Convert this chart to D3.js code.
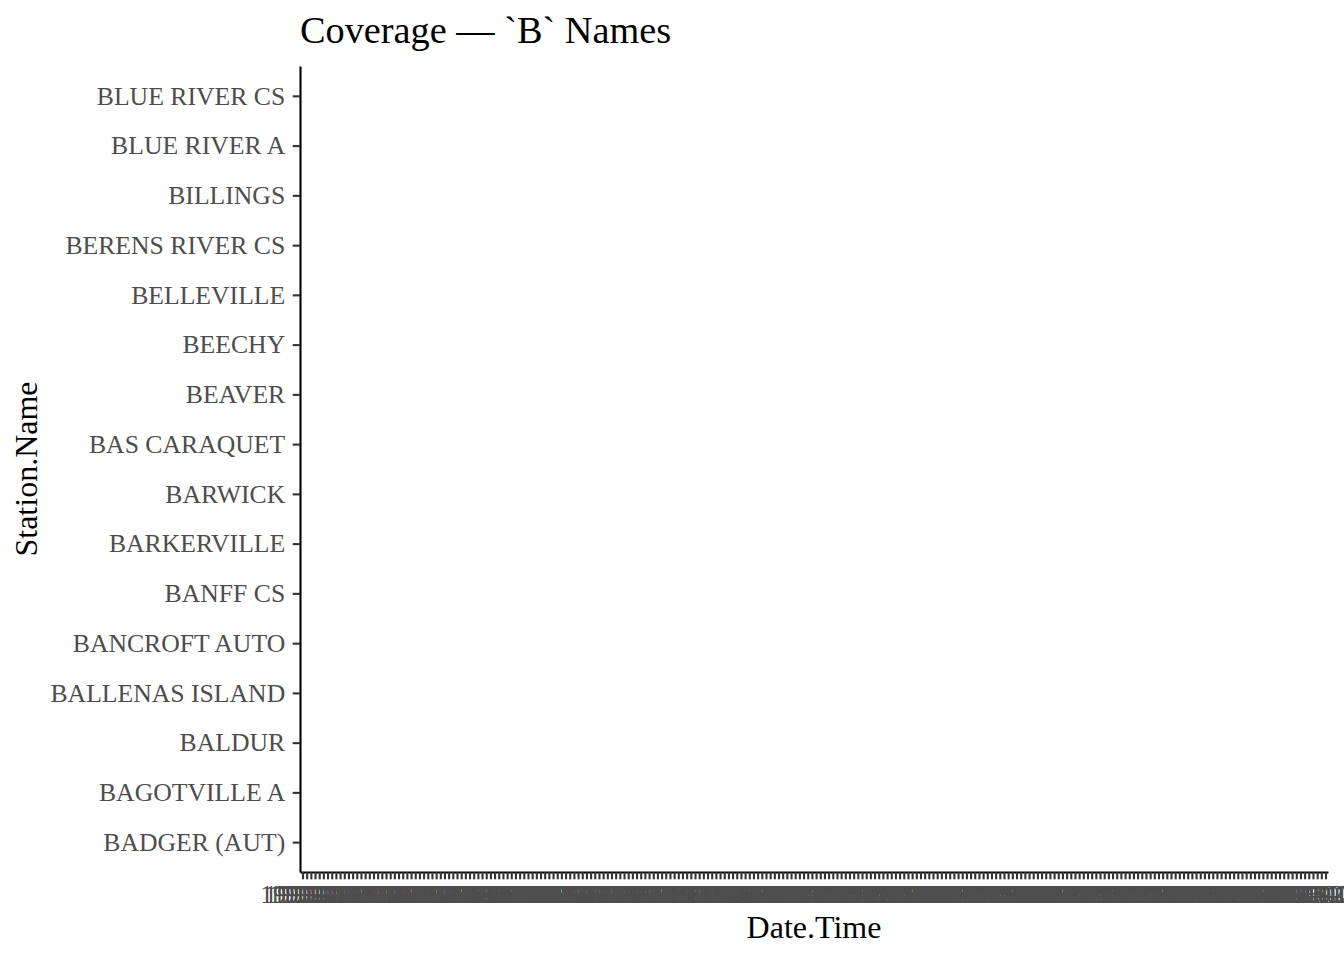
<!DOCTYPE html>
<html><head><meta charset="utf-8">
<script src="https://cdn.jsdelivr.net/npm/d3@7"></script>
<style>body{margin:0;background:#fff}svg{display:block}text{font-family:"Liberation Serif","Times New Roman",serif}</style>
</head><body>
<script>
const stations = ["BADGER (AUT)","BAGOTVILLE A","BALDUR","BALLENAS ISLAND","BANCROFT AUTO","BANFF CS","BARKERVILLE","BARWICK","BAS CARAQUET","BEAVER","BEECHY","BELLEVILLE","BERENS RIVER CS","BILLINGS","BLUE RIVER A","BLUE RIVER CS"];
const dateTimes = [
"1990-01","1990-02","1990-03","1990-04","1990-05","1990-06","1990-07","1990-08","1990-09","1990-10","1990-11","1990-12",
"1991-01","1991-02","1991-03","1991-04","1991-05","1991-06","1991-07","1991-08","1991-09","1991-10","1991-11","1991-12",
"1992-01","1992-02","1992-03","1992-04","1992-05","1992-06","1992-07","1992-08","1992-09","1992-10","1992-11","1992-12",
"1993-01","1993-02","1993-03","1993-04","1993-05","1993-06","1993-07","1993-08","1993-09","1993-10","1993-11","1993-12",
"1994-01","1994-02","1994-03","1994-04","1994-05","1994-06","1994-07","1994-08","1994-09","1994-10","1994-11","1994-12",
"1995-01","1995-02","1995-03","1995-04","1995-05","1995-06","1995-07","1995-08","1995-09","1995-10","1995-11","1995-12",
"1996-01","1996-02","1996-03","1996-04","1996-05","1996-06","1996-07","1996-08","1996-09","1996-10","1996-11","1996-12",
"1997-01","1997-02","1997-03","1997-04","1997-05","1997-06","1997-07","1997-08","1997-09","1997-10","1997-11","1997-12",
"1998-01","1998-02","1998-03","1998-04","1998-05","1998-06","1998-07","1998-08","1998-09","1998-10","1998-11","1998-12",
"1999-01","1999-02","1999-03","1999-04","1999-05","1999-06","1999-07","1999-08","1999-09","1999-10","1999-11","1999-12",
"2000-01","2000-02","2000-03","2000-04","2000-05","2000-06","2000-07","2000-08","2000-09","2000-10","2000-11","2000-12",
"2001-01","2001-02","2001-03","2001-04","2001-05","2001-06","2001-07","2001-08","2001-09","2001-10","2001-11","2001-12",
"2002-01","2002-02","2002-03","2002-04","2002-05","2002-06","2002-07","2002-08","2002-09","2002-10","2002-11","2002-12",
"2003-01","2003-02","2003-03","2003-04","2003-05","2003-06","2003-07","2003-08","2003-09","2003-10","2003-11","2003-12",
"2004-01","2004-02","2004-03","2004-04","2004-05","2004-06","2004-07","2004-08","2004-09","2004-10","2004-11","2004-12",
"2005-01","2005-02","2005-03","2005-04","2005-05","2005-06","2005-07","2005-08","2005-09","2005-10","2005-11","2005-12",
"2006-01","2006-02","2006-03","2006-04","2006-05","2006-06","2006-07","2006-08","2006-09","2006-10","2006-11","2006-12",
"2007-01","2007-02","2007-03","2007-04","2007-05","2007-06","2007-07","2007-08","2007-09","2007-10","2007-11","2007-12",
"2008-01","2008-02","2008-03","2008-04","2008-05","2008-06","2008-07","2008-08","2008-09","2008-10","2008-11","2008-12",
"2009-01","2009-02","2009-03","2009-04","2009-05","2009-06","2009-07","2009-08","2009-09","2009-10","2009-11","2009-12",
"2010-01","2010-02","2010-03","2010-04","2010-05","2010-06"];
const coverage = []; // no visible marks in the reference

const W = 1344, H = 960;
const m = {left: 300, right: 16, top: 66, bottom: 88};
const svg = d3.select("body").append("svg").attr("width", W).attr("height", H);

const x = d3.scalePoint().domain(dateTimes).range([m.left, W - m.right]).padding(0.6);
const y = d3.scalePoint().domain(stations).range([H - m.bottom, m.top]).padding(0.6);

svg.append("g").selectAll("rect").data(coverage).join("rect");

const tickLen = 7.3, fs = 25.7;

const xg = svg.append("g").attr("transform", `translate(0,${H - m.bottom})`)
  .call(d3.axisBottom(x).tickSize(tickLen).tickPadding(5).tickSizeOuter(0));
const yg = svg.append("g").attr("transform", `translate(${m.left},0)`)
  .call(d3.axisLeft(y).tickSize(tickLen).tickPadding(7.5).tickSizeOuter(0));

[xg, yg].forEach(g => {
  g.select(".domain").attr("stroke", "#000").attr("stroke-width", 2.1);
  g.selectAll(".tick line").attr("stroke", "#333").attr("stroke-width", 2.1);
  g.selectAll(".tick text").attr("fill", "#4d4d4d").style("font-size", fs + "px")
    .style("font-family", '"Liberation Serif", serif');
});
xg.selectAll(".tick text").attr("dy", "0.74em");

svg.append("text").attr("x", m.left).attr("y", 43)
  .style("font-size", "38.3px").attr("fill", "#000").text("Coverage — `B` Names");

svg.append("text").attr("x", (m.left + W - m.right) / 2).attr("y", 938)
  .attr("text-anchor", "middle").style("font-size", "32px").attr("fill", "#000").text("Date.Time");

svg.append("text").attr("transform", `translate(37,${(m.top + H - m.bottom) / 2}) rotate(-90)`)
  .attr("text-anchor", "middle").style("font-size", "32px").attr("fill", "#000").text("Station.Name");
</script>
</body></html>
